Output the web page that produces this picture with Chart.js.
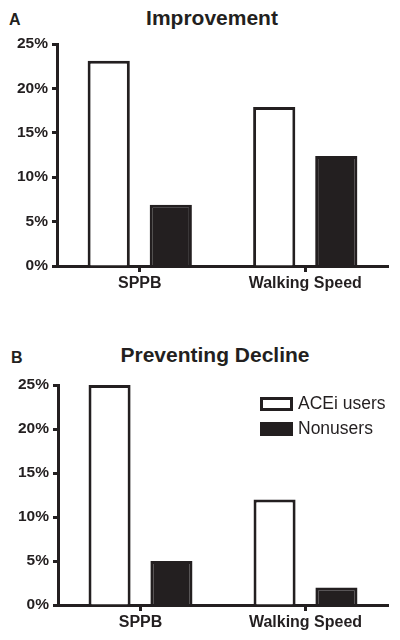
<!DOCTYPE html>
<html>
<head>
<meta charset="utf-8">
<script src="https://cdn.jsdelivr.net/npm/chart.js@4.4.1/dist/chart.umd.min.js"></script>
<style>
  html, body { margin: 0; padding: 0; background: #fff; }
  body { width: 400px; height: 640px; position: relative; overflow: hidden; font-family: "Liberation Sans", Arial, sans-serif; color: #231f20; }
  .panel { position: absolute; left: 0; width: 400px; }
  .lbl { position: absolute; font-weight: bold; white-space: nowrap; }
  .title { position: absolute; width: 400px; text-align: center; font-weight: bold; font-size: 21px; line-height: 21px; white-space: nowrap; }
  .legend { position: absolute; left: 260px; top: 397px; }
  .legend .row { position: absolute; left: 0; height: 14px; white-space: nowrap; }
  .legend .box { position: absolute; left: 0; top: 0; width: 33px; height: 14px; box-sizing: border-box; border: 3px solid #231f20; }
  .legend .txt { position: absolute; left: 38px; top: -1.8px; font-size: 17.5px; line-height: 17.5px; }
</style>
</head>
<body>
<div class="lbl" style="left:9px; top:11.5px; font-size:16px; line-height:16px;">A</div>
<div class="title" style="left:12px; top:7.2px;">Improvement</div>
<div class="panel" style="top:0; height:301px;"><canvas id="chartA" width="400" height="301"></canvas></div>

<div class="lbl" style="left:11px; top:349.5px; font-size:16px; line-height:16px;">B</div>
<div class="title" style="left:15px; top:344px;">Preventing Decline</div>
<div class="panel" style="top:320px; height:320px;"><canvas id="chartB" width="400" height="320"></canvas></div>
<div class="legend" id="legendB"></div>

<script>
// ---- data ----
const categories = ['SPPB', 'Walking Speed'];
const seriesNames = ['ACEi users', 'Nonusers'];
const improvementUsers = [23.1, 17.9];
const improvementNonusers = [6.9, 12.4];
const declineUsers = [25, 12];
const declineNonusers = [5, 2];
const yMin = 0, yMax = 25, yStep = 5;

// ---- style ----
const INK = '#231f20';
const fillColors = ['#ffffff', INK];
const fontFamily = '"Liberation Sans", Arial, Helvetica, sans-serif';

function makeDatasets(users, nonusers) {
  return [users, nonusers].map((vals, i) => ({
    label: seriesNames[i],
    data: vals,
    backgroundColor: fillColors[i],
    borderColor: INK,
    borderWidth: 3,
    borderSkipped: 'start',
    categoryPercentage: 0.75,
    barPercentage: 0.68
  }));
}

function makeOptions(padTop, yWidth) {
  return {
    responsive: false,
    animation: false,
    maintainAspectRatio: false,
    layout: { padding: { top: padTop, right: 12, bottom: 0, left: 0 } },
    plugins: { legend: { display: false }, tooltip: { enabled: false }, title: { display: false } },
    scales: {
      x: {
        offset: true,
        afterFit: s => { s.height = 35; },
        grid: { display: true, drawOnChartArea: false, offset: false, drawTicks: true, tickLength: 6, tickWidth: 3, tickColor: INK },
        border: { display: true, width: 3, color: INK },
        ticks: { color: INK, padding: 2, font: { family: fontFamily, size: 16, weight: 'bold' } }
      },
      y: {
        min: yMin, max: yMax,
        afterFit: s => { s.width = yWidth; },
        grid: { display: true, drawOnChartArea: false, drawTicks: true, tickLength: 5, tickWidth: 3, tickColor: INK },
        border: { display: true, width: 3, color: INK },
        ticks: { stepSize: yStep, color: INK, padding: 4, callback: v => v + '%', font: { family: fontFamily, size: 15.5, weight: 'bold' } }
      }
    }
  };
}

const chartA = new Chart(document.getElementById('chartA'), {
  type: 'bar',
  data: { labels: categories, datasets: makeDatasets(improvementUsers, improvementNonusers) },
  options: makeOptions(44, 57)
});

const chartB = new Chart(document.getElementById('chartB'), {
  type: 'bar',
  data: { labels: categories, datasets: makeDatasets(declineUsers, declineNonusers) },
  options: makeOptions(65, 58)
});

// HTML legend built from chart B's datasets
const leg = document.getElementById('legendB');
chartB.data.datasets.forEach((ds, i) => {
  const row = document.createElement('div');
  row.className = 'row';
  row.style.top = (i * 25) + 'px';
  const box = document.createElement('div');
  box.className = 'box';
  box.style.background = ds.backgroundColor;
  const txt = document.createElement('div');
  txt.className = 'txt';
  txt.textContent = ds.label;
  row.appendChild(box); row.appendChild(txt);
  leg.appendChild(row);
});
</script>
</body>
</html>
